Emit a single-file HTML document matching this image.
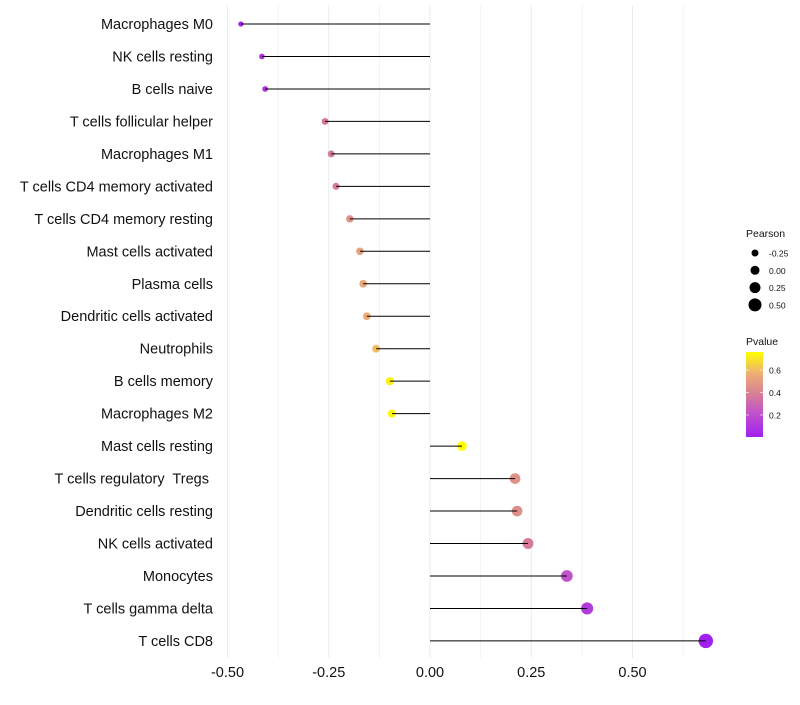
<!DOCTYPE html>
<html><head><meta charset="utf-8"><style>
body{margin:0;background:#fff;font-family:"Liberation Sans",sans-serif}
svg text{font-family:"Liberation Sans",sans-serif;white-space:pre}
</style></head><body>
<svg id="chart" width="800" height="700"></svg>
<script>
const categories=["Macrophages M0","NK cells resting","B cells naive","T cells follicular helper","Macrophages M1","T cells CD4 memory activated","T cells CD4 memory resting","Mast cells activated","Plasma cells","Dendritic cells activated","Neutrophils","B cells memory","Macrophages M2","Mast cells resting","T cells regulatory\u00a0 Tregs\u00a0","Dendritic cells resting","NK cells activated","Monocytes","T cells gamma delta","T cells CD8"];
const pearson=[-0.467,-0.415,-0.407,-0.259,-0.244,-0.232,-0.198,-0.173,-0.165,-0.156,-0.133,-0.099,-0.094,0.079,0.210,0.215,0.242,0.338,0.388,0.681];
const pvalue=[0.04,0.07,0.08,0.36,0.37,0.39,0.46,0.52,0.54,0.56,0.60,0.73,0.74,0.76,0.46,0.45,0.38,0.22,0.12,0.005];
const xTicks=[-0.5,-0.25,0,0.25,0.5];
const xTickLabels=["-0.50","-0.25","0.00","0.25","0.50"];
const sizeLegend=[-0.25,0,0.25,0.5];
const sizeLegendLabels=["-0.25","0.00","0.25","0.50"];
const colorTicks=[0.2,0.4,0.6];

const NS="http://www.w3.org/2000/svg";
const svg=document.getElementById('chart');
function el(t,a,p){const e=document.createElementNS(NS,t);for(const k in a)e.setAttribute(k,a[k]);(p||svg).appendChild(e);return e;}
const x=v=>430+v*405;
const y=i=>24+i*32.47;
const r=v=>4.5+4*v;
const pMin=0.004,pMax=0.76;
function col(p){
  let t=Math.max(0,Math.min(1,(p-pMin)/(pMax-pMin)));
  const stops=[[0,[160,32,240]],[0.3,[195,85,200]],[0.5,[215,125,150]],[0.75,[238,175,115]],[1,[255,255,0]]];
  for(let i=1;i<stops.length;i++){if(t<=stops[i][0]){const a=stops[i-1],b=stops[i];const f=(t-a[0])/(b[0]-a[0]);
    const c=a[1].map((v,j)=>Math.round(v+(b[1][j]-v)*f));return `rgb(${c})`;}}
  return 'rgb(255,255,0)';
}
for(let v=-0.5;v<=0.7;v+=0.125){
  const g=el('line',{x1:x(v),x2:x(v),y1:5,y2:658,stroke:'#ebebeb','stroke-width':Math.abs(v*4-Math.round(v*4))<0.01?1:0.6});
  
  
}
categories.forEach((c,i)=>{
  const t=el('text',{x:213,y:y(i)+5,'text-anchor':'end','font-size':14.5,fill:'#111'});t.textContent=c;
  
  
  const pt=el('circle',{cx:x(pearson[i]),cy:y(i),r:r(pearson[i]),fill:col(pvalue[i])});
  
  
  const s=el('line',{x1:x(0),x2:x(pearson[i]),y1:y(i),y2:y(i),stroke:'#000','stroke-width':1});
  
  
});
xTicks.forEach((v,i)=>{
  const t=el('text',{x:x(v),y:677,'text-anchor':'middle','font-size':14.5,fill:'#111'});t.textContent=xTickLabels[i];
  
  
});
const st=el('text',{x:746,y:237,'font-size':10.5,fill:'#111'});st.textContent='Pearson';


sizeLegend.forEach((v,i)=>{
  const cy=253+i*17.3;
  const c=el('circle',{cx:755,cy:cy,r:r(v),fill:'#000'});
  
  
  const t=el('text',{x:769,y:cy+3.5,'font-size':8.5,fill:'#111'});t.textContent=sizeLegendLabels[i];
  
  
});
const ct=el('text',{x:746,y:345,'font-size':10.5,fill:'#111'});ct.textContent='Pvalue';


const defs=el('defs',{});
const lg=el('linearGradient',{id:'pg',x1:0,y1:1,x2:0,y2:0},defs);
for(let k=0;k<=20;k++){el('stop',{offset:k/20,'stop-color':col(pMin+(pMax-pMin)*k/20)},lg);}
const bar=el('rect',{x:746,y:352,width:17,height:85,fill:'url(#pg)'});


const py=p=>437-(p-pMin)/(pMax-pMin)*85;
colorTicks.forEach(p=>{
  el('line',{x1:746,x2:749,y1:py(p),y2:py(p),stroke:'#fff','stroke-width':0.6});
  el('line',{x1:760,x2:763,y1:py(p),y2:py(p),stroke:'#fff','stroke-width':0.6});
  const t=el('text',{x:769,y:py(p)+3.5,'font-size':8.5,fill:'#111'});t.textContent=p.toFixed(1);
  
  
});
</script>
</body></html>
